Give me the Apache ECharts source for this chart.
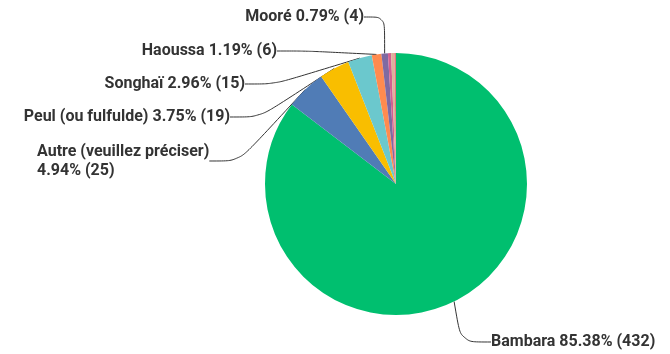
<!DOCTYPE html>
<html>
<head>
<meta charset="utf-8">
<script src="https://cdn.jsdelivr.net/npm/echarts@6/dist/echarts.min.js"></script>
<style>
  html, body { margin: 0; padding: 0; background: #ffffff; }
  #chart { width: 670px; height: 354px; }
</style>
</head>
<body>
<div id="chart"></div>
<script>
// Langues parlées — réponses (n = 506)
const languages = ['Bambara', 'Autre (veuillez préciser)', 'Peul (ou fulfulde)', 'Songhaï', 'Haoussa', 'Mooré', 'Soninké', 'Tamasheq', 'Dogon'];
const counts = [432, 25, 19, 15, 6, 4, 2, 2, 1];
const sliceColors = ['#00bf6f', '#507cb6', '#f9be00', '#6bc8cd', '#ff8b4f', '#7f6aa2', '#d25f90', '#dbb49a', '#e8747c'];
const labelledCount = 6;

// Label anchors: [x, y, align]
const labelSpots = [
  [491, 342, 'left'],
  [37, 161, 'left'],
  [230, 117, 'right'],
  [245, 84, 'right'],
  [277, 51, 'right'],
  [364, 17, 'right']
];

const chart = echarts.init(document.getElementById('chart'), null, { renderer: 'canvas' });

const data = languages.map((name, i) => ({
  name,
  value: counts[i],
  itemStyle: { color: sliceColors[i] },
  label: { show: i < labelledCount },
  labelLine: { show: i < labelledCount }
}));

chart.setOption({
  animation: false,
  series: [{
    type: 'pie',
    center: [396, 184],
    radius: [0, 131],
    startAngle: 90,
    clockwise: true,
    data,
    itemStyle: { borderColor: '#ffffff', borderWidth: 0 },
    label: {
      fontFamily: 'Roboto',
      fontSize: 16,
      fontWeight: 'bold',
      color: '#333333',
      lineHeight: 19,
      formatter: p => {
        const tail = p.percent.toFixed(2) + '% (' + p.value + ')';
        return p.dataIndex === 1 ? p.name + '\n' + tail : p.name + ' ' + tail;
      }
    },
    labelLine: {
      smooth: 0.3,
      lineStyle: { color: '#333333', width: 1 }
    },
    labelLayout: params => {
      const spot = labelSpots[params.dataIndex];
      if (!spot) return {};
      return { x: spot[0], y: spot[1], align: spot[2], verticalAlign: 'middle' };
    }
  }]
});
</script>
</body>
</html>
